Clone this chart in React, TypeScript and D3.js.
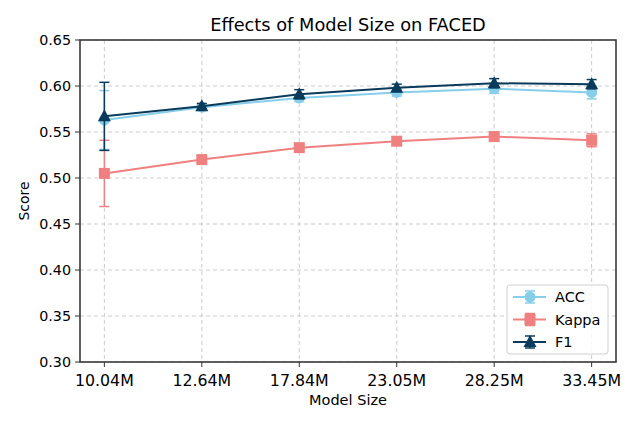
import React from 'react';
import * as d3 from 'd3';

const categories = ['10.04M', '12.64M', '17.84M', '23.05M', '28.25M', '33.45M'];
const accValues = [0.563, 0.577, 0.587, 0.593, 0.597, 0.593];
const accErrors = [0.032, 0.003, 0.004, 0.004, 0.005, 0.007];
const kappaValues = [0.505, 0.520, 0.533, 0.540, 0.545, 0.541];
const kappaErrors = [0.036, 0.003, 0.004, 0.004, 0.005, 0.007];
const f1Values = [0.567, 0.578, 0.591, 0.598, 0.603, 0.602];
const f1Errors = [0.037, 0.003, 0.005, 0.004, 0.005, 0.005];
const yTicks = [0.30, 0.35, 0.40, 0.45, 0.50, 0.55, 0.60, 0.65];

const series = [
  { name: 'ACC', values: accValues, errors: accErrors, color: '#87ceeb', marker: 'circle' },
  { name: 'Kappa', values: kappaValues, errors: kappaErrors, color: '#f08080', marker: 'square' },
  { name: 'F1', values: f1Values, errors: f1Errors, color: '#0b3b5b', marker: 'triangle' },
];

const W = 640;
const H = 426;
const margin = { top: 40, right: 24, bottom: 64, left: 80 };
const font = 'DejaVu Sans, sans-serif';

const Marker: React.FC<{ kind: string; x: number; y: number; color: string }> = ({ kind, x, y, color }) => {
  if (kind === 'circle') return <circle cx={x} cy={y} r={5.5} fill={color} />;
  if (kind === 'square') return <rect x={x - 5.5} y={y - 5.5} width={11} height={11} fill={color} />;
  return <path d={`M${x},${y - 7} L${x + 6.5},${y + 5} L${x - 6.5},${y + 5} Z`} fill={color} />;
};

const App: React.FC = () => {
  const innerW = W - margin.left - margin.right;
  const innerH = H - margin.top - margin.bottom;
  const x = d3.scaleLinear().domain([-0.25, categories.length - 0.75]).range([margin.left, margin.left + innerW]);
  const y = d3.scaleLinear().domain([0.3, 0.65]).range([margin.top + innerH, margin.top]);
  const line = d3.line<number>().x((_, i) => x(i)).y(d => y(d));

  const legendX = 507;
  const legendY = 285;

  return (
    <svg width={W} height={H} style={{ position: 'absolute', left: 0, top: 0, fontFamily: font }}>
      <rect width={W} height={H} fill="#fff" />
      {/* grid */}
      {yTicks.map(t => (
        <line key={'gy' + t} x1={margin.left} x2={margin.left + innerW} y1={y(t)} y2={y(t)}
          stroke="#cccccc" strokeDasharray="4,3" strokeWidth={1} />
      ))}
      {categories.map((c, i) => (
        <line key={'gx' + c} x1={x(i)} x2={x(i)} y1={margin.top} y2={margin.top + innerH}
          stroke="#cccccc" strokeDasharray="4,3" strokeWidth={1} />
      ))}
      {/* series */}
      {series.map(s => (
        <g key={s.name}>
          <path d={line(s.values) || ''} fill="none" stroke={s.color} strokeWidth={2} />
          {s.values.map((v, i) => (
            <g key={i} stroke={s.color} strokeWidth={1.5}>
              <line x1={x(i)} x2={x(i)} y1={y(v - s.errors[i])} y2={y(v + s.errors[i])} />
              <line x1={x(i) - 5} x2={x(i) + 5} y1={y(v - s.errors[i])} y2={y(v - s.errors[i])} />
              <line x1={x(i) - 5} x2={x(i) + 5} y1={y(v + s.errors[i])} y2={y(v + s.errors[i])} />
            </g>
          ))}
          {s.values.map((v, i) => (
            <Marker key={'m' + i} kind={s.marker} x={x(i)} y={y(v)} color={s.color} />
          ))}
        </g>
      ))}
      {/* frame */}
      <rect x={margin.left} y={margin.top} width={innerW} height={innerH} fill="none" stroke="#3a3a3a" strokeWidth={1.6} />
      {/* y ticks */}
      {yTicks.map(t => (
        <g key={'yt' + t}>
          <line x1={margin.left - 5} x2={margin.left} y1={y(t)} y2={y(t)} stroke="#333" />
          <text x={margin.left - 9} y={y(t)} dy="0.36em" textAnchor="end" fontSize={14.3} fill="#000">{t.toFixed(2)}</text>
        </g>
      ))}
      {/* x ticks */}
      {categories.map((c, i) => (
        <g key={'xt' + c}>
          <line x1={x(i)} x2={x(i)} y1={margin.top + innerH} y2={margin.top + innerH + 5} stroke="#333" />
          <text x={x(i)} y={386} textAnchor="middle" fontSize={15.8} fill="#000">{c}</text>
        </g>
      ))}
      <text x={margin.left + innerW / 2} y={405} textAnchor="middle" fontSize={14.5} fill="#000">Model Size</text>
      <text transform={`translate(29,${margin.top + innerH / 2}) rotate(-90)`} textAnchor="middle" fontSize={14} fill="#000">Score</text>
      <text x={margin.left + innerW / 2} y={31} textAnchor="middle" fontSize={17.8} fill="#000">Effects of Model Size on FACED</text>
      {/* legend */}
      <rect x={legendX} y={legendY} width={101} height={69} rx={3} fill="#fff" fillOpacity={0.85} stroke="#d0d0d0" />
      {series.map((s, i) => {
        const ly = legendY + 12 + i * 22.5;
        const cx = legendX + 23;
        return (
          <g key={'lg' + s.name}>
            <line x1={legendX + 6} x2={legendX + 39} y1={ly} y2={ly} stroke={s.color} strokeWidth={2} />
            <g stroke={s.color} strokeWidth={1.5}>
              <line x1={cx} x2={cx} y1={ly - 6} y2={ly + 6} />
              <line x1={cx - 5} x2={cx + 5} y1={ly - 6} y2={ly - 6} />
              <line x1={cx - 5} x2={cx + 5} y1={ly + 6} y2={ly + 6} />
            </g>
            <Marker kind={s.marker} x={cx} y={ly} color={s.color} />
            <text x={legendX + 48} y={ly} dy="0.36em" fontSize={14.5} fill="#000">{s.name}</text>
          </g>
        );
      })}
    </svg>
  );
};

export default App;
